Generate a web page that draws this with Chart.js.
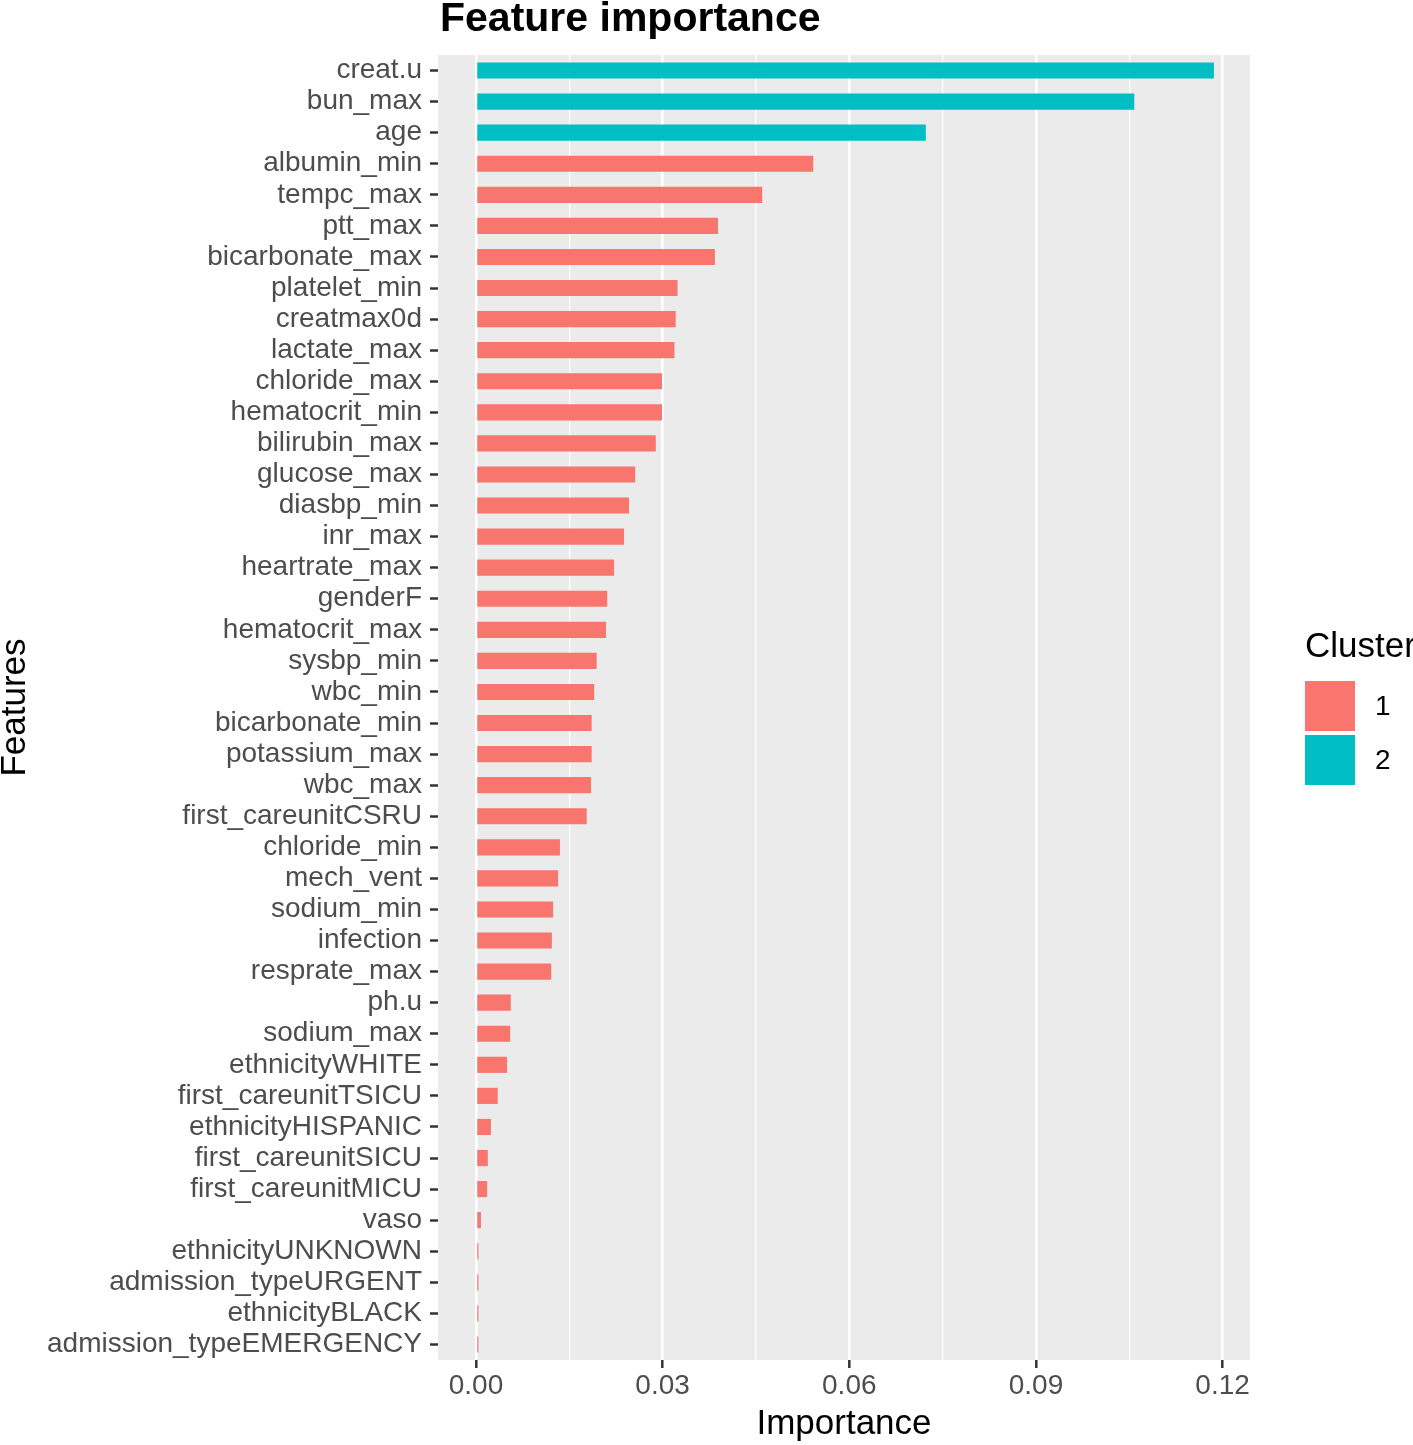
<!DOCTYPE html>
<html>
<head>
<meta charset="utf-8">
<title>Feature importance</title>
<script src="https://cdn.jsdelivr.net/npm/chart.js@4/dist/chart.umd.min.js"></script>
<style>
  html, body { margin: 0; padding: 0; background: #fff; }
  canvas { display: block; }
</style>
</head>
<body>
<canvas id="chart" width="1413" height="1445"></canvas>
<script>
// features, top to bottom as in the plot
const features = [
  'creat.u', 'bun_max', 'age', 'albumin_min', 'tempc_max', 'ptt_max',
  'bicarbonate_max', 'platelet_min', 'creatmax0d', 'lactate_max',
  'chloride_max', 'hematocrit_min', 'bilirubin_max', 'glucose_max',
  'diasbp_min', 'inr_max', 'heartrate_max', 'genderF', 'hematocrit_max',
  'sysbp_min', 'wbc_min', 'bicarbonate_min', 'potassium_max', 'wbc_max',
  'first_careunitCSRU', 'chloride_min', 'mech_vent', 'sodium_min',
  'infection', 'resprate_max', 'ph.u', 'sodium_max', 'ethnicityWHITE',
  'first_careunitTSICU', 'ethnicityHISPANIC', 'first_careunitSICU',
  'first_careunitMICU', 'vaso', 'ethnicityUNKNOWN', 'admission_typeURGENT',
  'ethnicityBLACK', 'admission_typeEMERGENCY'
];

const importance = [
  0.1186, 0.1058, 0.0723, 0.0542, 0.0460, 0.0389,
  0.0384, 0.0324, 0.0321, 0.0319,
  0.0299, 0.0299, 0.0289, 0.0256,
  0.0246, 0.0238, 0.0222, 0.0211, 0.0209,
  0.0194, 0.0190, 0.0186, 0.0186, 0.0185,
  0.0178, 0.0135, 0.0132, 0.0124,
  0.0122, 0.0121, 0.0056, 0.0055, 0.0050,
  0.0035, 0.0024, 0.0019,
  0.0018, 0.0008, 0.0004, 0.0004,
  0.0004, 0.0004
];

const cluster = [
  2, 2, 2, 1, 1, 1, 1, 1, 1, 1, 1, 1, 1, 1, 1, 1, 1, 1, 1, 1, 1,
  1, 1, 1, 1, 1, 1, 1, 1, 1, 1, 1, 1, 1, 1, 1, 1, 1, 1, 1, 1, 1
];

const clusterNames = ['1', '2'];
const clusterColors = ['#F8766D', '#00BFC4'];

const xTicks = [0, 0.015, 0.03, 0.045, 0.06, 0.075, 0.09, 0.105, 0.12];

const FONT = '"Liberation Sans", Arial, Helvetica, sans-serif';

const datasets = clusterNames.map((name, c) => ({
  label: name,
  data: importance.map((v, i) => (cluster[i] === c + 1 ? v : null)),
  backgroundColor: clusterColors[c],
  borderWidth: 0,
  barPercentage: 0.52,
  categoryPercentage: 1.0,
  grouped: false
}));

// grey panel behind the bars
const panelBg = {
  id: 'panelBg',
  beforeDraw(chart) {
    const { ctx, chartArea: a } = chart;
    ctx.save();
    ctx.fillStyle = '#EBEBEB';
    ctx.fillRect(a.left, a.top, a.right - a.left, a.bottom - a.top);
    ctx.restore();
  }
};

// title and legend, ggplot style
const extras = {
  id: 'extras',
  afterDraw(chart) {
    const { ctx, chartArea: a } = chart;
    ctx.save();
    ctx.fillStyle = '#000';
    ctx.textAlign = 'left';
    ctx.textBaseline = 'alphabetic';
    ctx.font = 'bold 41px ' + FONT;
    ctx.fillText('Feature importance', a.left + 2, 31);

    const lx = 1305;
    ctx.font = '35px ' + FONT;
    ctx.fillText('Cluster', lx, 657);
    ctx.font = '28px ' + FONT;
    ctx.textBaseline = 'middle';
    chart.data.datasets.forEach((ds, i) => {
      const top = 681 + i * 54;
      ctx.fillStyle = ds.backgroundColor;
      ctx.fillRect(lx, top, 50, 50);
      ctx.fillStyle = '#000';
      ctx.fillText(ds.label, lx + 70, top + 26);
    });
    ctx.restore();
  }
};

new Chart(document.getElementById('chart'), {
  type: 'bar',
  data: { labels: features, datasets },
  options: {
    indexAxis: 'y',
    responsive: false,
    animation: false,
    devicePixelRatio: 1,
    layout: { padding: { top: 55, right: 163, bottom: 0, left: 0 } },
    plugins: {
      legend: { display: false },
      tooltip: { enabled: false },
      title: { display: false }
    },
    scales: {
      x: {
        type: 'linear',
        min: -0.0061,
        max: 0.1244,
        afterBuildTicks(scale) {
          scale.ticks = xTicks.map(v => ({ value: v }));
        },
        afterFit(scale) { scale.height = 85; },
        border: { display: false },
        grid: {
          color: '#FFFFFF',
          lineWidth: ctx => (ctx.index % 2 === 0 ? 2.6 : 1.3),
          drawTicks: true,
          tickLength: 8,
          tickWidth: 2.5,
          tickColor: ctx => (ctx.index % 2 === 0 ? '#333333' : 'rgba(0,0,0,0)')
        },
        ticks: {
          autoSkip: false,
          maxRotation: 0,
          padding: 1,
          color: '#4D4D4D',
          font: { family: FONT, size: 28 },
          callback: (value, index) => (index % 2 === 0 ? Number(value).toFixed(2) : '')
        },
        title: {
          display: true,
          text: 'Importance',
          color: '#000',
          font: { family: FONT, size: 35 },
          padding: 0
        }
      },
      y: {
        type: 'category',
        afterFit(scale) { scale.width = 438; },
        border: { display: false },
        grid: {
          offset: false,
          drawOnChartArea: false,
          drawTicks: true,
          tickLength: 8,
          tickWidth: 2.5,
          tickColor: '#333333'
        },
        ticks: {
          autoSkip: false,
          padding: 8,
          color: '#4D4D4D',
          font: { family: FONT, size: 28 }
        },
        title: {
          display: true,
          text: 'Features',
          color: '#000',
          font: { family: FONT, size: 35, lineHeight: 0.86 },
          padding: 0
        }
      }
    }
  },
  plugins: [panelBg, extras]
});
</script>
</body>
</html>
